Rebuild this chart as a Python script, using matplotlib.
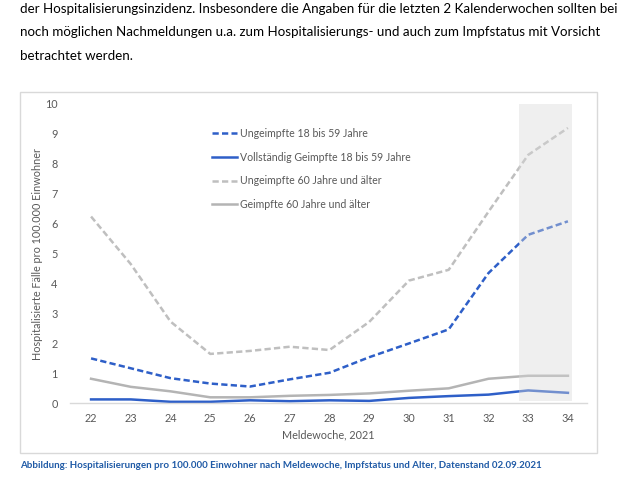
import matplotlib
matplotlib.use('Agg')
import matplotlib.pyplot as plt
from matplotlib.patches import Rectangle

# --- Daten ---
wochen = [22, 23, 24, 25, 26, 27, 28, 29, 30, 31, 32, 33, 34]
ungeimpft_18_59 = [1.50, 1.17, 0.84, 0.66, 0.56, 0.80, 1.02, 1.54, 2.00, 2.47, 4.35, 5.63, 6.08]
geimpft_18_59 = [0.13, 0.13, 0.05, 0.05, 0.10, 0.07, 0.10, 0.08, 0.18, 0.24, 0.29, 0.43, 0.35]
ungeimpft_60 = [6.24, 4.65, 2.73, 1.65, 1.75, 1.89, 1.78, 2.72, 4.10, 4.46, 6.40, 8.30, 9.20]
geimpft_60 = [0.82, 0.55, 0.40, 0.20, 0.20, 0.25, 0.28, 0.33, 0.42, 0.50, 0.82, 0.92, 0.92]
labels = ['Ungeimpfte 18 bis 59 Jahre', 'Vollständig Geimpfte 18 bis 59 Jahre',
          'Ungeimpfte 60 Jahre und älter', 'Geimpfte 60 Jahre und älter']
# letzte 2 Kalenderwochen (grau hinterlegt)
markierung = [33, 34]

text_oben = ['der Hospitalisierungsinzidenz. Insbesondere die Angaben für die letzten 2 Kalenderwochen sollten bei',
             'noch möglichen Nachmeldungen u.a. zum Hospitalisierungs- und auch zum Impfstatus mit Vorsicht',
             'betrachtet werden.']
caption = 'Abbildung: Hospitalisierungen pro 100.000 Einwohner nach Meldewoche, Impfstatus und Alter, Datenstand 02.09.2021'

W, H = 644, 499
plt.rcParams['font.family'] = ['Lato', 'DejaVu Sans']
fig = plt.figure(figsize=(W / 100, H / 100), dpi=100)

# Text oberhalb
for i, line in enumerate(text_oben):
    fig.text(20 / W, 1 - (9 + i * 23.5) / H, line, fontsize=9.6, color='black',
             va='center', ha='left')

# Rahmen um das Diagramm
fig.patches.append(Rectangle((20 / W, 1 - 453 / H), 577 / W, 361 / H, transform=fig.transFigure,
                             fill=False, edgecolor='#d9d9d9', linewidth=1))

ax = fig.add_axes([70 / W, 1 - 403.3 / H, 517 / W, 299.3 / H])
ax.set_xlim(21.47, 34.48)
ax.set_ylim(0, 10)

blau = '#2e5fc8'
grau_d = '#bfbfbf'
grau_s = '#b4b4b4'
ax.plot(wochen, ungeimpft_18_59, color=blau, lw=1.8, dashes=(2.5, 1.3), label=labels[0])
ax.plot(wochen, geimpft_18_59, color=blau, lw=1.8, label=labels[1])
ax.plot(wochen, ungeimpft_60, color=grau_d, lw=1.8, dashes=(2.5, 1.3), label=labels[2])
ax.plot(wochen, geimpft_60, color=grau_s, lw=1.8, label=labels[3])

# grau hinterlegter Bereich (halbtransparent über den Linien)
ax.axvspan(markierung[0] - 0.23, markierung[1] + 0.1, ymin=0.008, ymax=1,
           color='#d9d9d9', alpha=0.4, lw=0, zorder=5)

for s in ['top', 'right', 'left']:
    ax.spines[s].set_visible(False)
ax.spines['bottom'].set_color('#d9d9d9')
ax.spines['bottom'].set_linewidth(1)
ax.set_xticks(wochen)
ax.set_yticks(range(0, 11))
ax.tick_params(axis='both', length=0, labelsize=7.8, colors='#595959')
ax.tick_params(axis='x', pad=7)
ax.tick_params(axis='y', pad=9)
ax.set_xlabel('Meldewoche, 2021', fontsize=7.8, color='#595959', labelpad=4)
ax.set_ylabel('Hospitalisierte Fälle pro 100.000 Einwohner', fontsize=7.8, color='#595959', labelpad=1)

leg = ax.legend(loc='upper left', bbox_to_anchor=(212 / W, 1 - 128 / H), bbox_transform=fig.transFigure,
                frameon=False, fontsize=7.6, handlelength=2.4, handletextpad=0.3, labelspacing=1.2,
                borderpad=0, borderaxespad=0)
for t in leg.get_texts():
    t.set_color('#595959')

fig.text(20 / W, 1 - 466 / H, caption, fontsize=7.0, fontweight='bold', color='#1f5aa6',
         va='center', ha='left')

fig.savefig('out.png', dpi=100)
